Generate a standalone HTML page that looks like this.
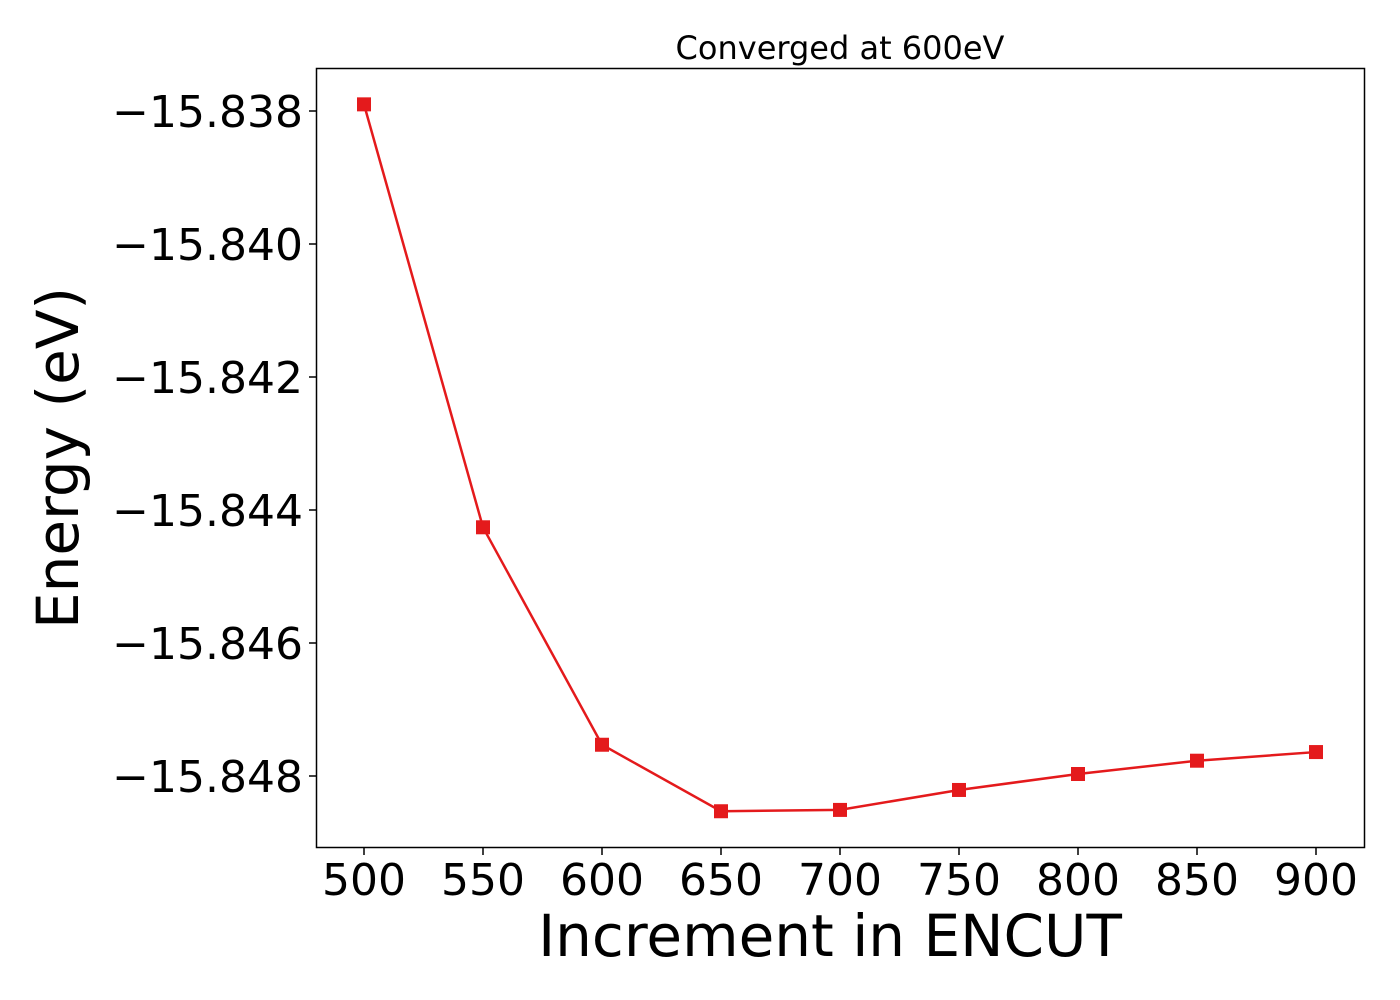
<!DOCTYPE html>
<html><head><meta charset="utf-8"><style>
body{margin:0;background:#fff}
svg{display:block;font-family:"Liberation Sans","DejaVu Sans",sans-serif}
</style></head><body>
<svg id="chart" width="1400" height="1000">
<rect width="1400" height="1000" fill="#fff"/>
<text x="840" y="59" font-size="32" text-anchor="middle" font-family="DejaVu Sans, sans-serif">Converged at 600eV</text>
<g id="ticks"></g>
<g id="series"></g>
<rect x="316.5" y="68.5" width="1048" height="779" fill="none" stroke="#000" stroke-width="1.5"/>
<text x="830" y="956" font-size="58" text-anchor="middle" font-family="DejaVu Sans, sans-serif">Increment in ENCUT</text>
<text transform="translate(78,458) rotate(-90)" font-size="58" text-anchor="middle" font-family="DejaVu Sans, sans-serif">Energy (eV)</text>
</svg>
<script>
const categories=[500,550,600,650,700,750,800,850,900];
const energies=[-15.8379,-15.84426,-15.84753,-15.84853,-15.84851,-15.84821,-15.84797,-15.84777,-15.84764];
const xTicks=[500,550,600,650,700,750,800,850,900];
const yTicks=[-15.838,-15.840,-15.842,-15.844,-15.846,-15.848];
const NS="http://www.w3.org/2000/svg";
function xs(v){return 364+(v-500)*(1316-364)/400;}
function ys(v){return 111+(-15.838-v)*66.5/0.001;}
const tg=document.getElementById('ticks'),sg=document.getElementById('series');
function mk(t,a,p){const e=document.createElementNS(NS,t);for(const k in a)e.setAttribute(k,a[k]);p.appendChild(e);return e;}
xTicks.forEach(v=>{
  const l=mk('line',{x1:xs(v),x2:xs(v),y1:847,y2:855,stroke:'#000','stroke-width':1.5},tg);
  
  
  const t=mk('text',{x:xs(v),y:895,'font-size':44,'text-anchor':'middle','font-family':'DejaVu Sans, sans-serif'},tg);
  t.textContent=v;
  
  
});
yTicks.forEach(v=>{
  const l=mk('line',{x1:309,x2:317,y1:ys(v),y2:ys(v),stroke:'#000','stroke-width':1.5},tg);
  
  
  const t=mk('text',{x:303,y:ys(v)+16,'font-size':44,'text-anchor':'end','font-family':'DejaVu Sans, sans-serif'},tg);
  t.textContent='\u2212'+Math.abs(v).toFixed(3);
  
  
});
const pts=categories.map((c,i)=>xs(c)+','+ys(energies[i])).join(' ');
const pl=mk('polyline',{points:pts,fill:'none',stroke:'#e41a1c','stroke-width':2.5},sg);


categories.forEach((c,i)=>{
  const r=mk('rect',{x:xs(c)-7,y:ys(energies[i])-7,width:14,height:14,fill:'#e41a1c'},sg);
  
  
});
</script>
</body></html>
